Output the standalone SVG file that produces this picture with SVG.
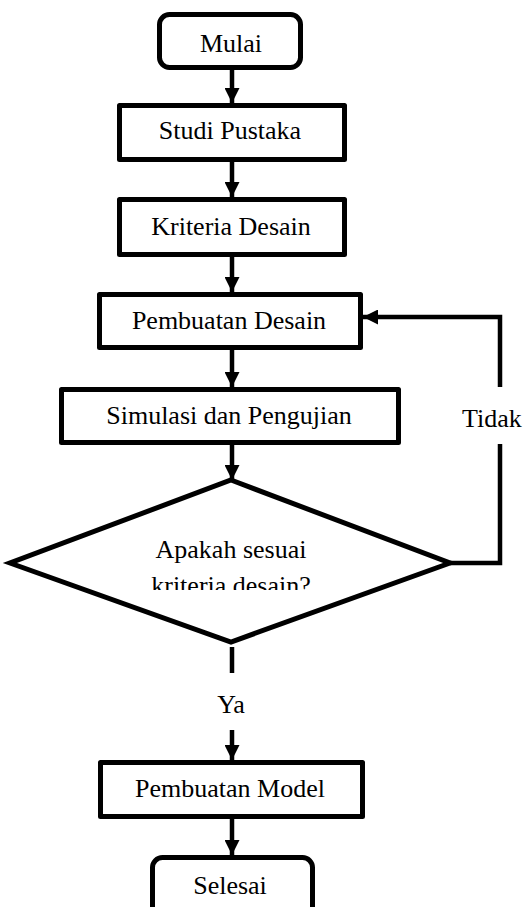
<svg xmlns="http://www.w3.org/2000/svg" width="525" height="910" viewBox="0 0 525 910">
<style>
.box{fill:#fff;stroke:#000;stroke-width:5;stroke-linejoin:round}
.ln{fill:none;stroke:#000;stroke-width:4.5;stroke-linejoin:miter}
text{font-family:'Liberation Serif','Times New Roman',serif;font-size:26px;fill:#000;text-anchor:middle}
</style>
<defs>
<marker id="ah" markerUnits="userSpaceOnUse" markerWidth="15" markerHeight="15" refX="15" refY="7.5" orient="auto">
<path d="M0,0 L15,7.5 L0,15 z" fill="#000"/>
</marker>
<clipPath id="clipDec"><rect x="0" y="0" width="525" height="590"/></clipPath>
<clipPath id="clipEnd"><rect x="0" y="0" width="525" height="907"/></clipPath>
</defs>
<rect width="525" height="910" fill="#fff"/>
<g id="connectors">
<line class="ln" x1="232" y1="70" x2="232" y2="103" marker-end="url(#ah)"/>
<line class="ln" x1="232" y1="162" x2="232" y2="197" marker-end="url(#ah)"/>
<line class="ln" x1="232" y1="257" x2="232" y2="292" marker-end="url(#ah)"/>
<line class="ln" x1="232" y1="350" x2="232" y2="387" marker-end="url(#ah)"/>
<line class="ln" x1="232" y1="445" x2="232" y2="480" marker-end="url(#ah)"/>
<line class="ln" x1="232" y1="647" x2="232" y2="673"/>
<line class="ln" x1="232" y1="730" x2="232" y2="760" marker-end="url(#ah)"/>
<line class="ln" x1="232" y1="819" x2="232" y2="855" marker-end="url(#ah)"/>
<polyline class="ln" points="450,563 500,563 500,444"/>
<polyline class="ln" points="500,387 500,317 363,317" marker-end="url(#ah)"/>
<text x="462" y="427" style="text-anchor:start">Tidak</text>
<text x="231" y="713">Ya</text>
</g>
<g id="mulai">
<rect class="box" x="159.5" y="14.5" width="141" height="53" rx="10"/>
<text x="231" y="52">Mulai</text>
</g>
<g id="studi-pustaka">
<rect class="box" x="119.5" y="105.5" width="225" height="54"/>
<text x="230" y="139">Studi Pustaka</text>
</g>
<g id="kriteria-desain">
<rect class="box" x="119.5" y="199.5" width="225" height="55"/>
<text x="231" y="235">Kriteria Desain</text>
</g>
<g id="pembuatan-desain">
<rect class="box" x="99.5" y="294.5" width="261" height="53"/>
<text x="229" y="329">Pembuatan Desain</text>
</g>
<g id="simulasi">
<rect class="box" x="61.5" y="389.5" width="337" height="53"/>
<text x="229" y="424">Simulasi dan Pengujian</text>
</g>
<g id="keputusan">
<polygon class="box" points="231,480 450,563 231,642 10,563" style="stroke-linejoin:miter"/>
<text x="231" y="558">Apakah sesuai</text>
<text x="231" y="594" clip-path="url(#clipDec)">kriteria desain?</text>
</g>
<g id="pembuatan-model">
<rect class="box" x="100.5" y="762.5" width="262" height="54"/>
<text x="230" y="797">Pembuatan Model</text>
</g>
<g id="selesai" clip-path="url(#clipEnd)">
<rect class="box" x="152.5" y="857.5" width="160" height="60" rx="10"/>
<text x="230" y="894">Selesai</text>
</g>
</svg>
